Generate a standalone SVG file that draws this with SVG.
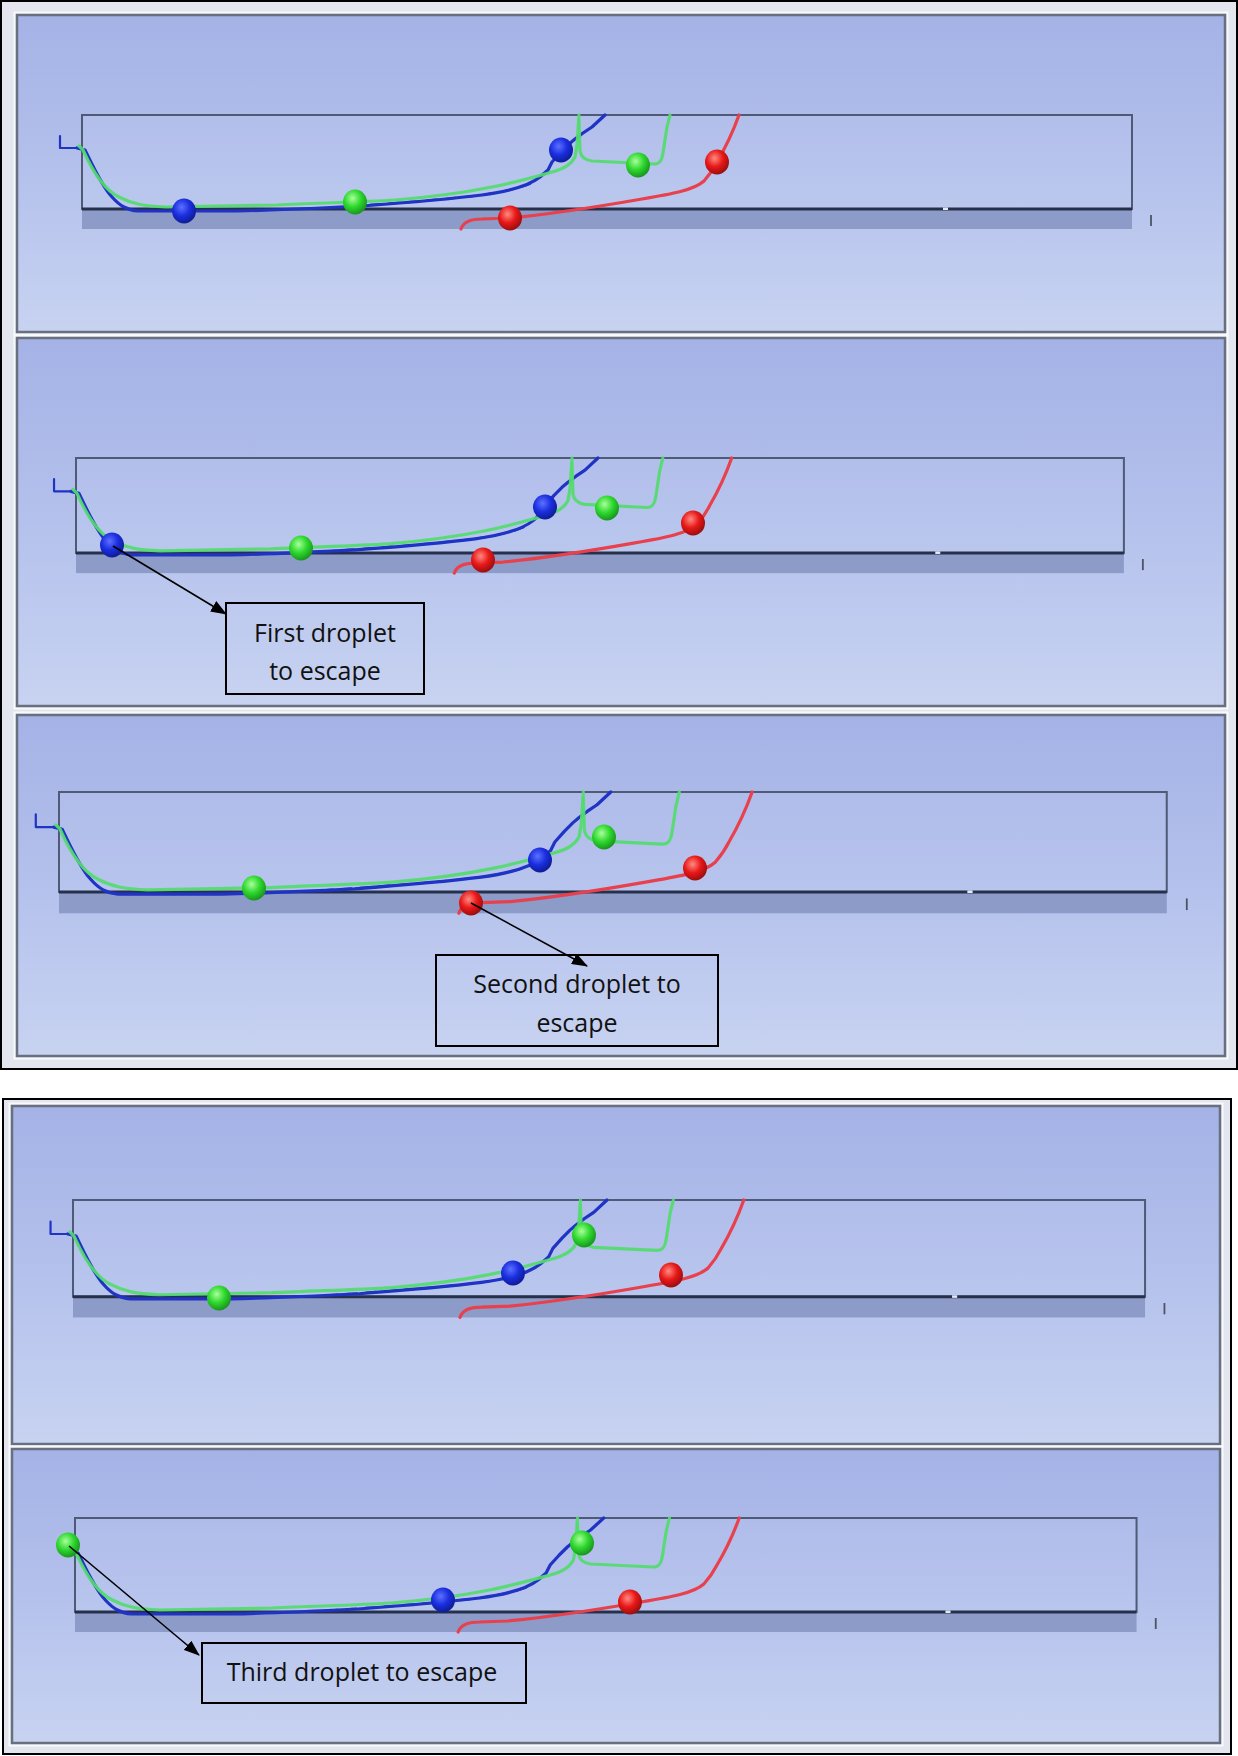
<svg xmlns="http://www.w3.org/2000/svg" xmlns:xlink="http://www.w3.org/1999/xlink" width="1238" height="1756" viewBox="0 0 1238 1756">
  <defs>
    <style>
      .frame{fill:#e3e6ee;stroke:#000;stroke-width:2}
      .halo{fill:none;stroke:#f8f9fc;stroke-width:2}
      .panel{fill:url(#sky);stroke:#687080;stroke-width:2.5}
      .box{fill:#ffffff;fill-opacity:.05;stroke:#4e5a76;stroke-width:2;vector-effect:non-scaling-stroke}
      .band{fill:#8d9bc8}
      .wall{stroke:#27304a;stroke-width:3;vector-effect:non-scaling-stroke}
      .tick{stroke:#4e5464;stroke-width:1.8;vector-effect:non-scaling-stroke}
      .trk{fill:none;stroke-width:3.2;stroke-linejoin:round;stroke-linecap:round;vector-effect:non-scaling-stroke}
      .tb{stroke:#1f33c4}
      .tg{stroke:#52dc6c;stroke-opacity:.92}
      .tr{stroke:#e8404c}
      .note{fill:none;stroke:#000;stroke-width:2}
      .lbl{font-family:"Open Sans","Liberation Sans",sans-serif;font-size:25px;fill:#111;text-anchor:middle}
      .arrow{stroke:#000;stroke-width:1.6;fill:none;marker-end:url(#head)}
    </style>
    <linearGradient id="sky" x1="0" y1="0" x2="0" y2="1">
      <stop offset="0" stop-color="#a4b2e6"/>
      <stop offset="0.5" stop-color="#b4c1ec"/>
      <stop offset="1" stop-color="#c8d3f1"/>
    </linearGradient>
    <radialGradient id="ballB" cx="0.4" cy="0.35" r="0.7">
      <stop offset="0" stop-color="#5d70ff"/>
      <stop offset="0.5" stop-color="#1a2ee0"/>
      <stop offset="1" stop-color="#0c1a8a"/>
    </radialGradient>
    <radialGradient id="ballG" cx="0.4" cy="0.35" r="0.7">
      <stop offset="0" stop-color="#a8ff9a"/>
      <stop offset="0.5" stop-color="#2ed82e"/>
      <stop offset="1" stop-color="#168c1c"/>
    </radialGradient>
    <radialGradient id="ballR" cx="0.4" cy="0.35" r="0.7">
      <stop offset="0" stop-color="#ff8a80"/>
      <stop offset="0.5" stop-color="#e81818"/>
      <stop offset="1" stop-color="#900c0c"/>
    </radialGradient>
    <marker id="head" markerUnits="userSpaceOnUse" markerWidth="16" markerHeight="12" viewBox="0 0 16 12" refX="15" refY="6" orient="auto">
      <path d="M0,0 L16,6 L0,12 z" fill="#000"/>
    </marker>

    <!-- channel: domain box, wall line and lower band (unit box 1050 x 94) -->
    <g id="channel">
      <rect class="box" x="0" y="0" width="1050" height="94"/>
      <rect class="band" x="0" y="94" width="1050" height="20"/>
      <line class="wall" x1="0" y1="94" x2="1050" y2="94"/>
      <rect x="861" y="92.5" width="5" height="2.5" fill="#e6eaf6"/>
      <line class="tick" x1="1069" y1="100" x2="1069" y2="111"/>
    </g>
    <path id="inlet" class="trk tb" style="stroke-width:2.2" d="M-22,21 V33 H-5"/>
    <!-- droplet tracks -->
    <g id="tracks">
      <path class="trk tr" d="M379,114 C381,108 387,104 400,104 L428,103 C470,99 520,91 560,84 C590,79 612,75 622,66 Q630,57 635,47 Q648,25 657,0"/>
      <path class="trk tb" d="M-5,33 L3,35 C9,47 19,70 30,82 C38,91 45,95 56,96 L155,96 C200,95 240,93 280,91 C320,88 360,85 400,80 C430,76 448,70 458,62 L466,55 L470,47 L479,37 L487,29 L493,24 L501,18 L510,12 L523,0"/>
      <path class="trk tg" d="M-3,31 L1,35 C10,55 22,75 37,82 C50,89 62,91 84,92 L195,90 C240,88 280,87 313,85 C350,82 380,78 410,72 C435,67 452,62 470,57 C482,54 489,50 493,42 L495,30 L497,0"/>
      <path class="trk tg" d="M497,5 L498,36 C499,42 503,45 510,46 L572,49 C578,49 580,45 581,38 L585,12 L588,0"/>
      <path class="trk tb" style="stroke-dasharray:10 9;stroke-width:2.2" d="M250,92.5 C300,89 350,86 400,80 C420,77 440,73 452,67"/>
    </g>
  </defs>

  <!-- upper figure: three snapshots -->
  <rect class="frame" x="1" y="1" width="1236" height="1068"/>

  <g id="panel-1">
    <rect class="halo" x="14.5" y="12.5" width="1213" height="322"/>
    <rect class="panel" x="17" y="15" width="1208" height="317"/>
    <use xlink:href="#channel" transform="translate(82,115)"/>
    <use xlink:href="#inlet" transform="translate(82,115)"/>
    <use xlink:href="#tracks" transform="translate(82,115)"/>
    <ellipse cx="184" cy="211" rx="12" ry="12.5" fill="url(#ballB)"/>
    <ellipse cx="355" cy="202" rx="12" ry="12.5" fill="url(#ballG)"/>
    <ellipse cx="510" cy="218" rx="12" ry="12.5" fill="url(#ballR)"/>
    <ellipse cx="561" cy="150" rx="12" ry="12.5" fill="url(#ballB)"/>
    <ellipse cx="638" cy="165" rx="12" ry="12.5" fill="url(#ballG)"/>
    <ellipse cx="717" cy="162" rx="12" ry="12.5" fill="url(#ballR)"/>
  </g>

  <g id="panel-2">
    <rect class="halo" x="14.5" y="335.5" width="1213" height="373"/>
    <rect class="panel" x="17" y="338" width="1208" height="368"/>
    <use xlink:href="#channel" transform="translate(76,458) scale(0.998,1.01)"/>
    <use xlink:href="#inlet" transform="translate(76,458) scale(0.998,1.01)"/>
    <use xlink:href="#tracks" transform="translate(76,458) scale(0.998,1.01)"/>
    <ellipse cx="112" cy="545" rx="12" ry="12.5" fill="url(#ballB)"/>
    <ellipse cx="301" cy="548" rx="12" ry="12.5" fill="url(#ballG)"/>
    <ellipse cx="483" cy="560" rx="12" ry="12.5" fill="url(#ballR)"/>
    <ellipse cx="545" cy="507" rx="12" ry="12.5" fill="url(#ballB)"/>
    <ellipse cx="607" cy="508" rx="12" ry="12.5" fill="url(#ballG)"/>
    <ellipse cx="693" cy="523" rx="12" ry="12.5" fill="url(#ballR)"/>
  </g>

  <g id="panel-3">
    <rect class="halo" x="14.5" y="712.5" width="1213" height="346"/>
    <rect class="panel" x="17" y="715" width="1208" height="341"/>
    <use xlink:href="#channel" transform="translate(59,792) scale(1.055,1.064)"/>
    <use xlink:href="#inlet" transform="translate(59,792) scale(1.055,1.064)"/>
    <use xlink:href="#tracks" transform="translate(59,792) scale(1.055,1.064)"/>
    <ellipse cx="254" cy="888" rx="12" ry="12.5" fill="url(#ballG)"/>
    <ellipse cx="471" cy="903" rx="12" ry="12.5" fill="url(#ballR)"/>
    <ellipse cx="540" cy="860" rx="12" ry="12.5" fill="url(#ballB)"/>
    <ellipse cx="604" cy="837" rx="12" ry="12.5" fill="url(#ballG)"/>
    <ellipse cx="695" cy="868" rx="12" ry="12.5" fill="url(#ballR)"/>
  </g>

  <!-- lower figure: two snapshots -->
  <rect class="frame" x="3" y="1099" width="1228" height="655"/>

  <g id="panel-4">
    <rect class="halo" x="9.5" y="1103.5" width="1213" height="343"/>
    <rect class="panel" x="12" y="1106" width="1208" height="338"/>
    <use xlink:href="#channel" transform="translate(73,1200) scale(1.021,1.03)"/>
    <use xlink:href="#inlet" transform="translate(73,1200) scale(1.021,1.03)"/>
    <use xlink:href="#tracks" transform="translate(73,1200) scale(1.021,1.03)"/>
    <ellipse cx="219" cy="1298" rx="12" ry="12.5" fill="url(#ballG)"/>
    <ellipse cx="513" cy="1273" rx="12" ry="12.5" fill="url(#ballB)"/>
    <ellipse cx="584" cy="1235" rx="12" ry="12.5" fill="url(#ballG)"/>
    <ellipse cx="671" cy="1275" rx="12" ry="12.5" fill="url(#ballR)"/>
  </g>

  <g id="panel-5">
    <rect class="halo" x="9.5" y="1446.5" width="1213" height="299"/>
    <rect class="panel" x="12" y="1449" width="1208" height="294"/>
    <use xlink:href="#channel" transform="translate(75,1518) scale(1.011,1)"/>
    <use xlink:href="#tracks" transform="translate(75,1518) scale(1.011,1)"/>
    <ellipse cx="68" cy="1545" rx="12" ry="12.5" fill="url(#ballG)"/>
    <ellipse cx="443" cy="1600" rx="12" ry="12.5" fill="url(#ballB)"/>
    <ellipse cx="582" cy="1543" rx="12" ry="12.5" fill="url(#ballG)"/>
    <ellipse cx="630" cy="1602" rx="12" ry="12.5" fill="url(#ballR)"/>
  </g>

  <!-- callout labels -->
  <g id="note-first">
    <rect class="note" x="226" y="603" width="198" height="91"/>
    <text class="lbl" x="325" y="642">First droplet</text>
    <text class="lbl" x="325" y="680">to escape</text>
  </g>
  <g id="note-second">
    <rect class="note" x="436" y="955" width="282" height="91"/>
    <text class="lbl" x="577" y="993">Second droplet to</text>
    <text class="lbl" x="577" y="1032">escape</text>
  </g>
  <g id="note-third">
    <rect class="note" x="202" y="1643" width="324" height="60"/>
    <text class="lbl" x="362" y="1681">Third droplet to escape</text>
  </g>

  <!-- pointers from droplets to callouts -->
  <g id="connectors">
    <line class="arrow" x1="113" y1="546" x2="226" y2="614"/>
    <line class="arrow" x1="471" y1="903" x2="587" y2="966"/>
    <line class="arrow" x1="69" y1="1546" x2="199" y2="1655"/>
  </g>
</svg>
